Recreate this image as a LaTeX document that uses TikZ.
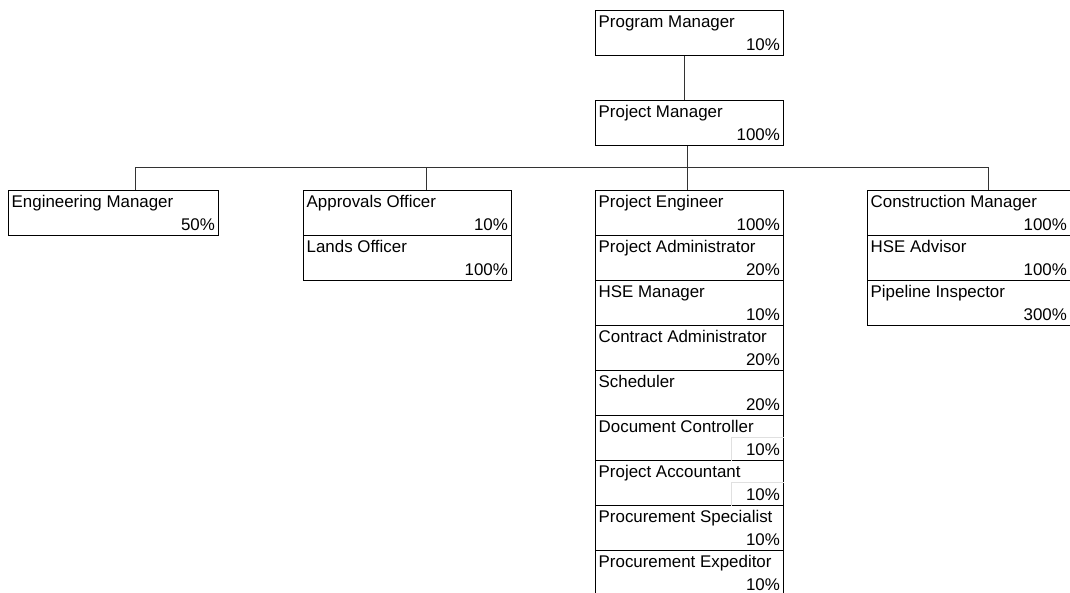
\documentclass[tikz,border=0pt]{standalone}
\usepackage{fontspec}
\setmainfont{Liberation Sans}
\begin{document}
\begin{tikzpicture}[x=1pt,y=1pt,
  box/.style={draw=black, line width=1.1pt, rectangle, anchor=north west,
    minimum height=45pt, inner sep=0pt},
  title/.style={anchor=base west, inner sep=0pt, font=\fontsize{16.9}{19}\selectfont},
  pct/.style={anchor=base east, inner sep=0pt, font=\fontsize{16.9}{19}\selectfont},
  link/.style={draw=black!80, line width=1pt},
  cell/.style={draw=black!12, line width=0.8pt}]
\useasboundingbox (0,0) rectangle (1070,-592);
\clip (0,0) rectangle (1070,-592);

% one role: name, left, top, width, title, share
\newcommand{\rolebox}[6]{%
  \node[box, minimum width=#4pt] (#1) at (#2,-#3) {};
  \node[title] (#1-t) at ([xshift=3.5pt,yshift=-17.5pt]#1.north west) {#5};
  \node[pct] (#1-p) at ([xshift=-4pt,yshift=-40.5pt]#1.north east) {#6};
}

\rolebox{pgm}{595}{10}{188}{Program Manager}{10\%}
\rolebox{pjm}{595}{100}{188}{Project Manager}{100\%}

\rolebox{eng}{8}{190}{210}{Engineering Manager}{50\%}

\rolebox{app}{303}{190}{208}{Approvals Officer}{10\%}
\rolebox{lnd}{303}{235}{208}{Lands Officer}{100\%}

\rolebox{pe}{595}{190}{188}{Project Engineer}{100\%}
\rolebox{pa}{595}{235}{188}{Project Administrator}{20\%}
\rolebox{hsem}{595}{280}{188}{HSE Manager}{10\%}
\rolebox{ca}{595}{325}{188}{Contract Administrator}{20\%}
\rolebox{sch}{595}{370}{188}{Scheduler}{20\%}
\rolebox{dc}{595}{415}{188}{Document Controller}{10\%}
\rolebox{pac}{595}{460}{188}{Project Accountant}{10\%}
\rolebox{ps}{595}{505}{188}{Procurement Specialist}{10\%}
\rolebox{pex}{595}{550}{188}{Procurement Expeditor}{10\%}

\rolebox{cm}{867}{190}{203}{Construction Manager}{100\%}
\rolebox{hsea}{867}{235}{203}{HSE Advisor}{100\%}
\rolebox{pi}{867}{280}{203}{Pipeline Inspector}{300\%}

% faint cell edges around two of the shares
\draw[cell] ([xshift=-53pt,yshift=-22pt]dc.north east) |- ++(53pt,0) ;
\draw[cell] ([xshift=-53pt,yshift=-22pt]dc.north east) -- ([xshift=-53pt]dc.south east);
\draw[cell] ([xshift=-53pt,yshift=-22pt]pac.north east) |- ++(53pt,0) ;
\draw[cell] ([xshift=-53pt,yshift=-22pt]pac.north east) -- ([xshift=-53pt]pac.south east);

% reporting lines
\coordinate (busL) at (135,-167);
\coordinate (busR) at (988,-167);
\coordinate (busA) at (426,-167);
\coordinate (busC) at (687,-167);
\draw[link] ([xshift=-5pt]pgm.south) -- ([xshift=-5pt]pjm.north);
\draw[link] ([xshift=-2pt]pjm.south) -- ([xshift=-2pt]pe.north);
\draw[link] (busL) -- (busR);
\draw[link] (busL) -- (busL |- eng.north);
\draw[link] (busA) -- (busA |- app.north);
\draw[link] (busR) -- (busR |- cm.north);
\end{tikzpicture}
\end{document}
